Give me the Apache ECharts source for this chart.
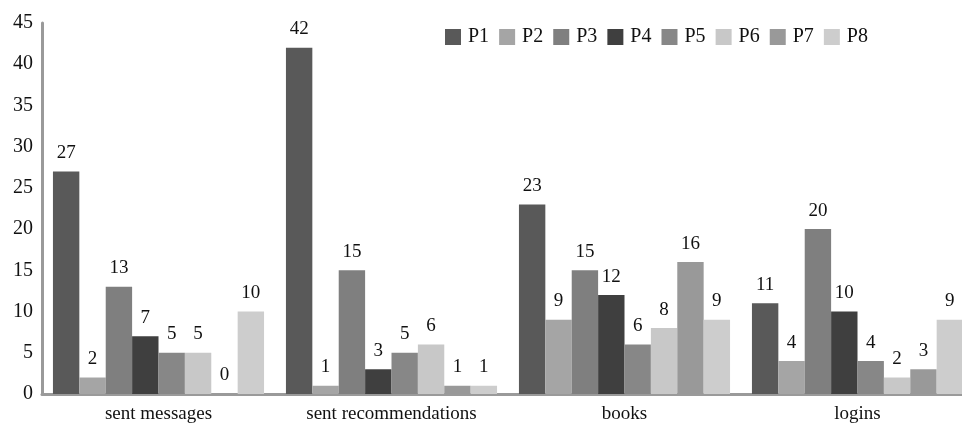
<!DOCTYPE html>
<html>
<head>
<meta charset="utf-8">
<script src="https://cdn.jsdelivr.net/npm/echarts@6/dist/echarts.min.js"></script>
<style>
  html, body { margin: 0; padding: 0; background: #fff; overflow: hidden; }
  #chart { width: 962px; height: 423px; }
</style>
</head>
<body>
<div id="chart"></div>
<script>
// Activity categories and per-participant counts
const categories = ['sent messages', 'sent recommendations', 'books', 'logins'];
const participants = ['P1', 'P2', 'P3', 'P4', 'P5', 'P6', 'P7', 'P8'];
const P1 = [27, 42, 23, 11];
const P2 = [2, 1, 9, 4];
const P3 = [13, 15, 15, 20];
const P4 = [7, 3, 12, 10];
const P5 = [5, 5, 6, 4];
const P6 = [5, 6, 8, 2];
const P7 = [0, 1, 16, 3];
const P8 = [10, 1, 9, 9];
const seriesValues = [P1, P2, P3, P4, P5, P6, P7, P8];
const yTicks = { min: 0, max: 45, step: 5 };

const greys = ['#595959', '#a5a5a5', '#7f7f7f', '#3f3f3f', '#878787', '#c8c8c8', '#999999', '#cdcdcd'];
const serif = '"Liberation Serif", "DejaVu Serif", serif';

const chart = echarts.init(document.getElementById('chart'));
chart.setOption({
  animation: false,
  backgroundColor: '#ffffff',
  color: greys,
  legend: {
    data: participants,
    left: 440,
    top: 22,
    itemWidth: 16,
    itemHeight: 16,
    itemGap: 10,
    icon: 'rect',
    textStyle: { fontFamily: serif, fontSize: 20, color: '#111', padding: [0, 0, 0, 2] }
  },
  // plot area runs slightly past the right edge of the canvas
  grid: { left: 42, width: 932, top: 23, bottom: 29, containLabel: false, outerBoundsMode: 'none' },
  xAxis: {
    type: 'category',
    data: categories,
    axisLine: { lineStyle: { color: '#9a9a9a', width: 3 } },
    axisTick: { show: false },
    axisLabel: { fontFamily: serif, fontSize: 19, color: '#111', margin: 11 }
  },
  yAxis: {
    type: 'value',
    min: yTicks.min,
    max: yTicks.max,
    interval: yTicks.step,
    axisLine: { show: true, lineStyle: { color: '#9a9a9a', width: 3 } },
    axisTick: { show: false },
    splitLine: { show: false },
    axisLabel: { fontFamily: serif, fontSize: 20, color: '#111', margin: 9 }
  },
  series: participants.map((name, i) => ({
    name,
    type: 'bar',
    data: seriesValues[i],
    barGap: '0%',
    barCategoryGap: '9.4%',
    label: {
      show: true,
      position: 'top',
      distance: 9,
      fontFamily: serif,
      fontSize: 19,
      color: '#111'
    }
  }))
});
</script>
</body>
</html>
